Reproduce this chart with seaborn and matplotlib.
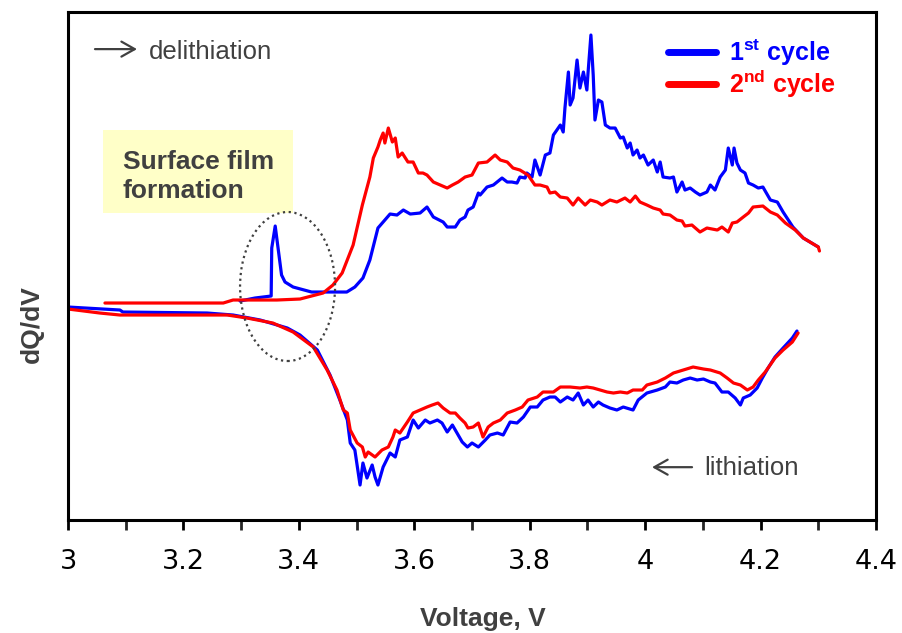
import numpy as np
import pandas as pd
import matplotlib.pyplot as plt
import seaborn as sns
from matplotlib.patches import Ellipse, Rectangle
from matplotlib.lines import Line2D
from matplotlib.ticker import MultipleLocator, FuncFormatter

# ---------------------------------------------------------------------------
# data (dQ/dV in arbitrary units)
# ---------------------------------------------------------------------------
v_c1_delith = [3.298, 3.324, 3.352, 3.353, 3.359, 3.370, 3.376, 3.390, 3.422, 3.483,
               3.497, 3.511, 3.523, 3.537, 3.558, 3.570, 3.581, 3.593, 3.610, 3.622,
               3.633, 3.650, 3.657, 3.671, 3.679, 3.688, 3.693, 3.702, 3.711, 3.714,
               3.726, 3.737, 3.752, 3.761, 3.769, 3.778, 3.783, 3.792, 3.795, 3.804,
               3.809, 3.818, 3.827, 3.835, 3.841, 3.853, 3.858, 3.861, 3.867, 3.870,
               3.875, 3.882, 3.887, 3.893, 3.899, 3.901, 3.906, 3.910, 3.913, 3.919,
               3.925, 3.931, 3.939, 3.948, 3.957, 3.962, 3.969, 3.974, 3.979, 3.986,
               3.991, 3.997, 4.005, 4.014, 4.021, 4.026, 4.031, 4.043, 4.049, 4.055,
               4.064, 4.069, 4.078, 4.087, 4.095, 4.107, 4.113, 4.121, 4.130, 4.139,
               4.144, 4.151, 4.154, 4.159, 4.165, 4.173, 4.179, 4.187, 4.196, 4.204,
               4.217, 4.229, 4.239, 4.256, 4.274, 4.300]
q_c1_delith = [0.4, 0.7, 0.9, 5.7, 7.9, 3.0, 2.3, 1.8, 1.3, 1.3,
               1.8, 2.7, 4.5, 7.7, 9.1, 9.0, 9.5, 9.1, 9.2, 9.8,
               8.8, 8.3, 7.8, 7.8, 8.5, 8.8, 9.5, 9.8, 11.2, 11.0,
               11.8, 12.0, 12.7, 12.3, 12.3, 12.2, 12.8, 12.7, 13.2, 12.8,
               14.5, 13.0, 15.0, 15.2, 17.0, 18.0, 17.3, 19.7, 23.3, 20.0,
               20.7, 24.5, 21.7, 23.3, 21.5, 23.2, 27.0, 23.0, 18.5, 20.5,
               20.3, 18.0, 17.7, 17.7, 16.7, 16.8, 15.7, 16.2, 15.0, 15.5,
               14.7, 15.0, 14.0, 14.5, 13.3, 14.3, 12.8, 12.7, 12.8, 11.3,
               12.3, 11.5, 11.7, 11.3, 11.0, 11.3, 12.0, 11.5, 12.8, 13.5,
               15.7, 14.0, 15.7, 14.2, 13.5, 13.2, 12.2, 12.0, 11.7, 11.8,
               10.5, 10.3, 9.3, 7.8, 6.7, 5.8]

v_c2_delith = [3.064, 3.269, 3.286, 3.362, 3.402, 3.442, 3.459, 3.475, 3.494, 3.510,
               3.523, 3.529, 3.537, 3.541, 3.546, 3.549, 3.555, 3.562, 3.567, 3.572,
               3.579, 3.589, 3.598, 3.607, 3.615, 3.622, 3.633, 3.645, 3.657, 3.666,
               3.676, 3.688, 3.700, 3.711, 3.726, 3.740, 3.749, 3.761, 3.771, 3.783,
               3.797, 3.809, 3.818, 3.830, 3.835, 3.844, 3.853, 3.865, 3.875, 3.884,
               3.896, 3.905, 3.917, 3.925, 3.939, 3.951, 3.965, 3.974, 3.983, 3.991,
               4.003, 4.014, 4.026, 4.031, 4.043, 4.055, 4.064, 4.069, 4.081, 4.095,
               4.107, 4.125, 4.133, 4.144, 4.151, 4.159, 4.170, 4.179, 4.187, 4.204,
               4.217, 4.229, 4.243, 4.260, 4.274, 4.300, 4.302]
q_c2_delith = [0.2, 0.2, 0.5, 0.5, 0.6, 1.2, 2.0, 3.2, 6.0, 10.0,
               12.8, 14.7, 15.8, 16.5, 17.2, 16.2, 17.7, 16.3, 16.7, 14.8,
               15.2, 14.3, 14.3, 13.2, 13.2, 13.0, 12.3, 12.0, 11.7, 12.0,
               12.3, 12.8, 13.0, 14.2, 14.3, 15.0, 14.5, 14.3, 13.7, 13.5,
               13.0, 12.0, 12.0, 11.8, 11.2, 11.3, 10.8, 10.7, 10.0, 10.7,
               10.0, 10.5, 10.3, 10.0, 10.5, 10.3, 10.7, 10.3, 10.9, 10.3,
               10.0, 9.7, 9.5, 9.1, 9.0, 8.5, 8.4, 7.9, 8.0, 7.3,
               7.7, 7.5, 7.8, 7.3, 8.2, 8.3, 8.8, 9.2, 9.8, 9.9,
               9.3, 9.0, 8.2, 7.5, 6.7, 5.8, 5.4]

v_c1_lith = [3.000, 3.090, 3.095, 3.241, 3.286, 3.333, 3.380, 3.402, 3.432, 3.454,
             3.471, 3.484, 3.489, 3.497, 3.506, 3.511, 3.518, 3.527, 3.532, 3.537,
             3.546, 3.558, 3.567, 3.575, 3.588, 3.598, 3.607, 3.619, 3.627, 3.640,
             3.648, 3.657, 3.666, 3.674, 3.683, 3.692, 3.700, 3.711, 3.723, 3.731,
             3.744, 3.754, 3.766, 3.778, 3.789, 3.801, 3.813, 3.823, 3.835, 3.844,
             3.853, 3.865, 3.875, 3.884, 3.893, 3.901, 3.910, 3.919, 3.927, 3.939,
             3.951, 3.962, 3.979, 3.988, 4.003, 4.021, 4.035, 4.043, 4.055, 4.066,
             4.078, 4.090, 4.101, 4.113, 4.121, 4.133, 4.144, 4.156, 4.165, 4.170,
             4.182, 4.194, 4.203, 4.213, 4.225, 4.239, 4.255, 4.263]
q_c1_lith = [-0.2, -0.5, -0.7, -0.8, -1.0, -1.5, -2.3, -3.0, -4.5, -7.0,
             -9.5, -11.5, -13.8, -14.5, -18.0, -15.8, -17.3, -16.0, -17.2, -18.0,
             -16.2, -14.8, -15.2, -13.5, -13.2, -11.5, -12.3, -11.5, -11.8, -11.5,
             -11.8, -12.7, -12.0, -12.8, -13.7, -14.2, -13.8, -14.2, -13.5, -13.0,
             -12.8, -13.0, -11.7, -11.8, -11.2, -10.2, -10.2, -9.5, -9.2, -9.2,
             -9.7, -9.2, -9.5, -8.8, -10.0, -9.5, -10.2, -9.7, -10.0, -10.3,
             -10.5, -10.2, -10.5, -9.5, -8.8, -8.5, -8.2, -7.7, -7.8, -7.5,
             -7.3, -7.5, -7.4, -7.7, -7.8, -8.7, -8.7, -9.3, -10.0, -9.3,
             -9.0, -8.3, -7.3, -6.3, -5.2, -4.3, -3.3, -2.6]

v_c2_lith = [3.000, 3.055, 3.090, 3.276, 3.310, 3.355, 3.390, 3.425, 3.449, 3.466,
             3.477, 3.484, 3.489, 3.501, 3.510, 3.515, 3.520, 3.532, 3.544, 3.555,
             3.563, 3.567, 3.575, 3.588, 3.598, 3.610, 3.622, 3.631, 3.641, 3.650,
             3.662, 3.671, 3.679, 3.688, 3.693, 3.702, 3.711, 3.719, 3.728, 3.737,
             3.749, 3.761, 3.775, 3.787, 3.797, 3.813, 3.823, 3.841, 3.853, 3.870,
             3.887, 3.899, 3.910, 3.922, 3.934, 3.945, 3.957, 3.969, 3.979, 3.995,
             4.003, 4.021, 4.035, 4.049, 4.066, 4.083, 4.101, 4.113, 4.130, 4.142,
             4.153, 4.165, 4.177, 4.187, 4.196, 4.208, 4.225, 4.239, 4.255, 4.265]
q_c2_lith = [-0.4, -0.8, -1.0, -1.0, -1.3, -1.8, -2.7, -4.2, -6.5, -8.5,
             -10.5, -10.8, -12.5, -13.8, -14.2, -15.2, -14.7, -15.2, -14.5, -14.2,
             -13.2, -12.5, -12.8, -11.7, -10.8, -10.5, -10.2, -10.0, -9.8, -10.3,
             -10.8, -10.8, -11.3, -11.8, -12.3, -12.2, -11.8, -13.2, -12.2, -11.8,
             -11.5, -10.8, -10.5, -10.2, -9.5, -9.2, -8.7, -8.7, -8.2, -8.2,
             -8.3, -8.2, -8.3, -8.5, -8.7, -8.8, -8.7, -8.8, -8.5, -8.5,
             -8.0, -7.7, -7.3, -6.8, -6.5, -6.2, -6.4, -6.5, -6.8, -7.3,
             -7.8, -8.0, -8.5, -8.2, -7.5, -6.7, -5.3, -4.5, -3.7, -2.8]

cycle_labels = ['1st', '2nd']
cycle_colors = {'1st': '#0000FF', '2nd': '#FF0000'}
x_ticks = [3.0, 3.2, 3.4, 3.6, 3.8, 4.0, 4.2, 4.4]

# ---------------------------------------------------------------------------
# long-form frame
# ---------------------------------------------------------------------------
parts = [
    ('1st', 'delith', v_c1_delith, q_c1_delith),
    ('1st', 'lith', v_c1_lith, q_c1_lith),
    ('2nd', 'delith', v_c2_delith, q_c2_delith),
    ('2nd', 'lith', v_c2_lith, q_c2_lith),
]
frames = []
for cyc, branch, v, q in parts:
    frames.append(pd.DataFrame({'V': v, 'dQdV': q, 'cycle': cyc,
                                'branch': cyc + '_' + branch}))
df = pd.concat(frames, ignore_index=True)

# ---------------------------------------------------------------------------
# plot
# ---------------------------------------------------------------------------
sns.set_theme(style='ticks')
plt.rcParams['font.family'] = ['DejaVu Sans']
plt.rcParams['mathtext.fontset'] = 'custom'
plt.rcParams['mathtext.bf'] = 'Liberation Sans:bold'
plt.rcParams['mathtext.rm'] = 'Liberation Sans:bold'

GRAY = '#404040'

fig = plt.figure(figsize=(9.02, 6.33), dpi=100)
ax = fig.add_axes([0.0754, 0.1785, 0.8958, 0.8025])

sns.lineplot(data=df, x='V', y='dQdV', hue='cycle', units='branch',
             estimator=None, sort=False, palette=cycle_colors,
             hue_order=cycle_labels, linewidth=2.3, legend=False, ax=ax)

ax.set_xlim(3.0, 4.4)
ax.set_ylim(-21.5, 29.3)
ax.set_xticks(x_ticks)
ax.xaxis.set_minor_locator(MultipleLocator(0.1))
ax.xaxis.set_major_formatter(FuncFormatter(lambda v, p: '%g' % round(v, 2)))
ax.set_yticks([])
ax.tick_params(axis='x', which='major', direction='out', length=7, width=2,
               labelsize=19.5, pad=14, colors='black')
ax.tick_params(axis='x', which='minor', direction='out', length=7, width=2)
for s in ax.spines.values():
    s.set_linewidth(2.2)
    s.set_color('black')

ax.set_xlabel('Voltage, V', fontsize=19, fontweight='bold', color=GRAY,
              family='Liberation Sans')
ax.xaxis.set_label_coords(0.514, -0.171)
ax.set_ylabel('dQ/dV', fontsize=19, fontweight='bold', color=GRAY,
              family='Liberation Sans')
ax.yaxis.set_label_coords(-0.03, 0.385)

# surface film box + dotted ellipse
ax.add_patch(Rectangle((0.0433, 0.6043), 0.2351, 0.1634, transform=ax.transAxes,
                       facecolor='#FFFFC8', edgecolor='none', zorder=0))
ax.text(0.068, 0.634, 'Surface film\nformation', transform=ax.transAxes,
        fontsize=19, fontweight='bold', color=GRAY, family='Liberation Sans',
        ha='left', va='baseline', linespacing=1.25)
ax.add_patch(Ellipse((3.3804, 1.85), 0.1646, 14.9, fill=False, edgecolor=GRAY,
                     linewidth=1.6, linestyle=(0, (1, 1.6)), zorder=3))

# direction arrows
arrow_kw = dict(arrowstyle='->,head_length=0.8,head_width=0.45', color=GRAY,
                lw=1.6, shrinkA=0, shrinkB=0, mutation_scale=12)
ax.annotate('', xy=(0.0854, 0.927), xytext=(0.0334, 0.927),
            xycoords='axes fraction', arrowprops=arrow_kw)
ax.text(0.1002, 0.907, 'delithiation', transform=ax.transAxes, fontsize=18.5,
        color=GRAY, family='Liberation Sans', va='baseline')
ax.annotate('', xy=(0.7228, 0.104), xytext=(0.7723, 0.104),
            xycoords='axes fraction', arrowprops=arrow_kw)
ax.text(0.7871, 0.0886, 'lithiation', transform=ax.transAxes, fontsize=18.5,
        color=GRAY, family='Liberation Sans', va='baseline')

# legend
handles = [Line2D([], [], color=cycle_colors[c], lw=5) for c in cycle_labels]
labels = [r'1$^{\mathbf{st}}$ cycle', r'2$^{\mathbf{nd}}$ cycle']
leg = ax.legend(handles, labels, loc='upper left', bbox_to_anchor=(0.7426, 0.95),
                frameon=False, borderpad=0, borderaxespad=0, handlelength=1.9,
                handletextpad=0.55, labelspacing=0.0,
                prop={'family': 'Liberation Sans', 'weight': 'bold', 'size': 18})
for t, c in zip(leg.get_texts(), cycle_labels):
    t.set_color(cycle_colors[c])

fig.savefig('out.png', dpi=100)
